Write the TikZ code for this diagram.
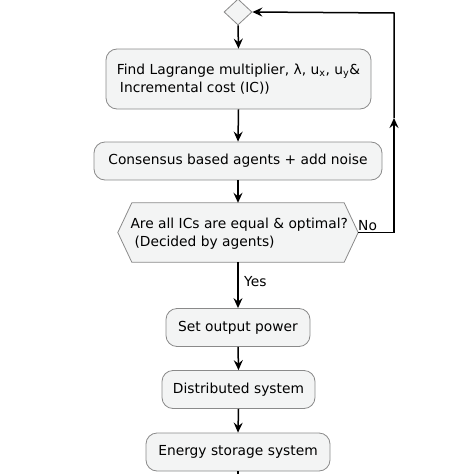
\documentclass[tikz,border=0pt]{standalone}
\usepackage{fontspec}
\setmainfont{DejaVu Sans}
\usetikzlibrary{arrows.meta,shapes.geometric}
\definecolor{boxfill}{HTML}{F3F4F4}
\definecolor{boxline}{HTML}{8A8A8A}
\begin{document}
\begin{tikzpicture}[x=1pt,y=-1pt,
  every node/.style={font=\fontsize{13.8}{18}\selectfont},
  act/.style={draw=boxline,fill=boxfill,line width=0.8pt,rounded corners=11pt,inner sep=0pt,minimum height=38pt},
  arr/.style={line width=1.5pt,-{Stealth[length=10pt,width=9pt,inset=3.5pt]}},
  ln/.style={line width=1.5pt}]
\useasboundingbox (0,0) rectangle (474,474);
\node[draw=boxline,fill=boxfill,line width=0.8pt,diamond,minimum width=28pt,minimum height=26pt,inner sep=0pt] (dia) at (238,12) {};
\node[act,minimum width=265pt,minimum height=60pt,align=left] (b1) at (238.5,79)
  {Find Lagrange multiplier, λ, u\textsubscript{x}, u\textsubscript{y}\&\\\hspace{3pt}Incremental cost (IC))};
\node[act,minimum width=288pt] (b2) at (238,161) {Consensus based agents + add noise};
\node[inner sep=0pt,minimum width=240pt,minimum height=59pt] (hx) at (238,232.5) {};
\draw[draw=boxline,fill=boxfill,line width=0.8pt] (hx.west) -- ([xshift=14pt]hx.north west) -- ([xshift=-14pt]hx.north east) -- (hx.east) -- ([xshift=-14pt]hx.south east) -- ([xshift=14pt]hx.south west) -- cycle;
\node[align=left,anchor=west] (hxt) at (127,234) {Are all ICs are equal \& optimal?\\\hspace{4pt}(Decided by agents)};
\node[act,minimum width=144pt] (b3) at (238,327.5) {Set output power};
\node[act,minimum width=153pt] (b4) at (238.5,389.5) {Distributed system};
\node[act,minimum width=184pt] (b5) at (238,452) {Energy storage system};
\node[anchor=west,inner sep=0pt] (no) at (358,226) {No};
\node[anchor=west,inner sep=0pt] (yes) at (244,282) {Yes};
\coordinate (c1) at (394,232.5);
\coordinate (cm) at (394,118);
\coordinate (c2) at (394,13);
\coordinate (end) at (238,480);
\draw[arr] (dia.south) -- (b1.north);
\draw[arr] (b1.south) -- (b2.north);
\draw[arr] (b2.south) -- (b2.south |- hx.north);
\draw[arr] (b3.north |- hx.south) -- (b3.north);
\draw[arr] (b3.south) -- (b4.north);
\draw[arr] (b4.south) -- (b5.north);
\draw[ln] (b5.south) -- (end);
\draw[arr] (hx.east) -- (c1) -- (cm);
\draw[arr] (cm) -- (c2) -- (dia.east);
\end{tikzpicture}
\end{document}
